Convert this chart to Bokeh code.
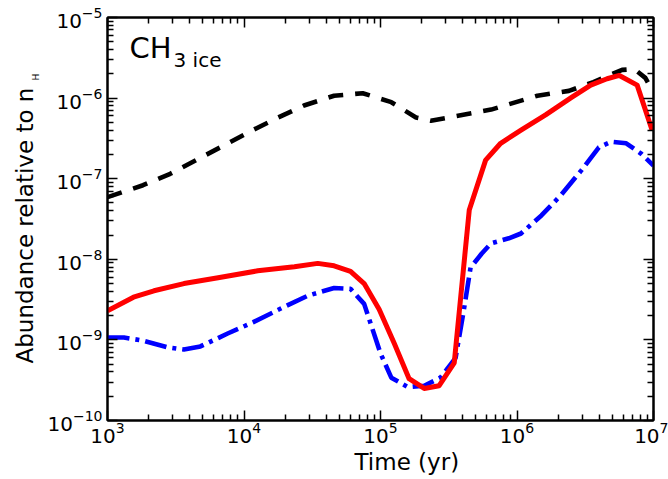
import math
from bokeh.plotting import figure
from bokeh.models import Range1d, LogAxis, FixedTicker, Label, Title, CustomJSTickFormatter
from bokeh.embed import file_html
from bokeh.resources import INLINE

# ---- data ----
x_ticks = [1e3, 1e4, 1e5, 1e6, 1e7]
y_ticks = [1e-10, 1e-9, 1e-8, 1e-7, 1e-6, 1e-5]

black_t = [1.0e3, 1.82e3, 2.88e3, 4.57e3, 7.08e3, 1.12e4, 1.78e4, 2.75e4, 4.57e4, 7.41e4,
           1.20e5, 1.82e5, 2.34e5, 3.16e5, 6.46e5, 1.41e6, 2.40e6, 3.63e6, 5.89e6, 7.24e6,
           8.71e6, 1.0e7]
black_y = [5.9e-8, 8.3e-8, 1.15e-7, 1.74e-7, 2.57e-7, 3.89e-7, 5.75e-7, 8.1e-7, 1.07e-6, 1.15e-6,
           8.9e-7, 5.75e-7, 5.25e-7, 5.75e-7, 7.2e-7, 1.07e-6, 1.23e-6, 1.58e-6, 2.24e-6, 2.29e-6,
           1.78e-6, 1.17e-6]

red_t = [1.0e3, 1.55e3, 2.19e3, 3.63e3, 6.46e3, 1.26e4, 2.34e4, 3.47e4, 4.57e4, 6.03e4,
         7.59e4, 9.77e4, 1.26e5, 1.62e5, 2.09e5, 2.69e5, 3.47e5, 4.47e5, 5.89e5, 7.59e5,
         1.07e6, 1.62e6, 2.51e6, 3.47e6, 4.57e6, 5.62e6, 7.59e6, 9.77e6]
red_y = [2.29e-9, 3.39e-9, 4.07e-9, 5.0e-9, 5.9e-9, 7.2e-9, 8.1e-9, 8.9e-9, 8.3e-9, 7.1e-9,
         5.0e-9, 2.4e-9, 9.1e-10, 3.3e-10, 2.5e-10, 2.7e-10, 5.2e-10, 4.1e-8, 1.70e-7, 2.75e-7,
         4.0e-7, 6.2e-7, 1.02e-6, 1.45e-6, 1.74e-6, 1.91e-6, 1.45e-6, 4.0e-7]

blue_t = [1.0e3, 1.32e3, 1.82e3, 2.75e3, 3.63e3, 4.79e3, 7.59e3, 1.17e4, 1.86e4, 2.95e4,
          4.57e4, 6.03e4, 7.59e4, 8.71e4, 1.0e5, 1.20e5, 1.58e5, 2.09e5, 2.75e5, 3.55e5,
          4.07e5, 4.57e5, 5.50e5, 6.46e5, 8.71e5, 1.07e6, 1.51e6, 2.09e6, 2.95e6, 3.98e6,
          4.90e6, 6.31e6, 8.13e6, 1.0e7]
blue_y = [1.07e-9, 1.07e-9, 9.8e-10, 8.1e-10, 7.6e-10, 8.3e-10, 1.20e-9, 1.66e-9, 2.45e-9, 3.55e-9,
          4.4e-9, 4.3e-9, 2.8e-9, 1.38e-9, 6.8e-10, 3.4e-10, 2.6e-10, 2.7e-10, 3.4e-10, 6.0e-10,
          2.3e-9, 7.9e-9, 1.17e-8, 1.58e-8, 1.82e-8, 2.09e-8, 3.5e-8, 6.2e-8, 1.26e-7, 2.45e-7,
          2.88e-7, 2.75e-7, 2.04e-7, 1.45e-7]

x_label = "Time (yr)"
y_label = "Abundance relative to n"
y_label_sub = "H"
species = "CH"
species_sub = "3 ice"

FONT = "DejaVu Sans"

x_minor = [m * 10 ** e for e in range(3, 7) for m in range(2, 10)]
y_minor = [m * 10.0 ** e for e in range(-10, -5) for m in range(2, 10)]

p = figure(x_axis_type="log", y_axis_type="log",
           frame_width=546, frame_height=403,
           x_range=Range1d(1e3, 1e7), y_range=Range1d(1e-10, 1e-5),
           output_backend="svg", toolbar_location=None,
           min_border_left=107, min_border_right=15, min_border_top=17, min_border_bottom=59)
p.grid.visible = False
p.outline_line_color = "black"
p.outline_line_width = 2
p.background_fill_color = "white"
p.border_fill_color = "white"

bottom_ax = p.below[0]
left_ax = p.left[0]

xt = FixedTicker(ticks=x_ticks, minor_ticks=x_minor)
yt = FixedTicker(ticks=y_ticks, minor_ticks=y_minor)

top_ax = LogAxis()
right_ax = LogAxis()
p.add_layout(top_ax, "above")
p.add_layout(right_ax, "right")

for ax, tk in [(bottom_ax, xt), (left_ax, yt), (top_ax, xt), (right_ax, yt)]:
    ax.ticker = tk
    ax.axis_line_color = "black"
    ax.axis_line_width = 2
    ax.major_tick_line_color = "black"
    ax.major_tick_line_width = 1.5
    ax.minor_tick_line_color = "black"
    ax.minor_tick_line_width = 1.5
    ax.major_tick_in = 10
    ax.major_tick_out = 0
    ax.minor_tick_in = 6
    ax.minor_tick_out = 0
    ax.major_label_text_font = FONT
    ax.major_label_text_font_size = "20px"
    ax.major_label_text_color = "black"
    ax.major_label_standoff = 5

bottom_ax.major_label_standoff = 1

for ax in (top_ax, right_ax):
    ax.formatter = CustomJSTickFormatter(code="return ' '")
    ax.major_label_text_font_size = "2px"
    ax.major_label_text_alpha = 0
    ax.major_label_standoff = 0

p.line(black_t, black_y, line_color="black", line_width=4.6, line_dash="15 12")
p.line(blue_t, blue_y, line_color="#0000ff", line_width=4.6, line_dash="22 6 4 6")
p.line(red_t, red_y, line_color="#ff0000", line_width=5, line_join="round")

# species label inside the frame
common = dict(x_units="screen", y_units="screen", text_font=FONT, text_color="black",
              text_baseline="middle", text_align="left")
p.add_layout(Label(x=22, y=373, text=species, text_font_size="29px", **common))
p.add_layout(Label(x=66, y=361, text=species_sub, text_font_size="20px", **common))

# axis titles in side panels
tcommon = dict(text_font=FONT, text_font_style="normal", text_color="black", align="left")
p.add_layout(Title(text=x_label, offset=247, standoff=6, vertical_align="top",
                   text_font_size="23px", **tcommon), "below")
p.add_layout(Title(text=y_label_sub, offset=340, standoff=8, vertical_align="bottom",
                   text_font_size="9px", **tcommon), "left")
p.add_layout(Title(text=y_label, offset=57, standoff=-27, vertical_align="bottom",
                   text_font_size="23px", **tcommon), "left")

open("out.html", "w").write(file_html(p, INLINE))
